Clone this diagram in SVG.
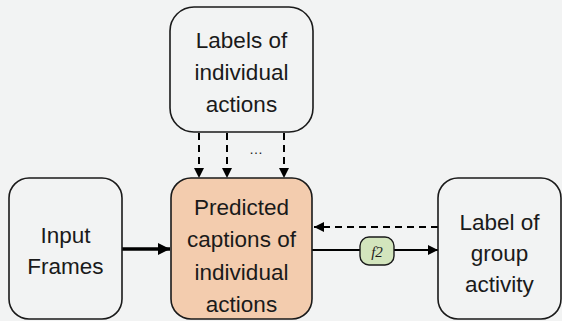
<svg xmlns="http://www.w3.org/2000/svg" width="562" height="321" viewBox="0 0 562 321">
  <defs>
    <marker id="tri" viewBox="0 0 10 10" refX="10" refY="5" markerWidth="5" markerHeight="5" orient="auto" markerUnits="userSpaceOnUse">
      <path d="M0,0 L10,5 L0,10 z" fill="#000"/>
    </marker>
    <marker id="triBig" viewBox="0 0 10 10" refX="10" refY="5" markerWidth="14" markerHeight="12" orient="auto" markerUnits="userSpaceOnUse">
      <path d="M0,0 L10,5 L0,10 z" fill="#000"/>
    </marker>
    <marker id="triMid" viewBox="0 0 10 10" refX="10" refY="5" markerWidth="11" markerHeight="10" orient="auto" markerUnits="userSpaceOnUse">
      <path d="M0,0 L10,5 L0,10 z" fill="#000"/>
    </marker>
  </defs>
  <style>
    .box { fill: #ffffff; fill-opacity: 0; stroke: #1a1a1a; stroke-width: 1.6; }
    .main { fill: #f3ccae; stroke: #1a1a1a; stroke-width: 1.6; }
    .fn { fill: #d3e5bd; stroke: #1a1a1a; stroke-width: 1.4; }
    .lbl { font-family: "Liberation Sans", "Open Sans", sans-serif; font-size: 22.5px; fill: #1a1a1a; text-anchor: middle; }
    .dash { fill: none; stroke: #000; stroke-width: 2; stroke-dasharray: 7 5; }
    .solid { fill: none; stroke: #000; stroke-width: 2; }
  </style>
  <rect width="562" height="321" fill="#f2f3f3"/>

  <g id="connectors">
    <line class="dash" x1="199" y1="133" x2="199" y2="178" marker-end="url(#triMid)"/>
    <line class="dash" x1="227" y1="133" x2="227" y2="178" marker-end="url(#triMid)"/>
    <line class="dash" x1="284" y1="133" x2="284" y2="178" marker-end="url(#triMid)"/>
    <text x="256" y="154" font-family="Liberation Sans, sans-serif" font-size="14" fill="#1a1a1a" text-anchor="middle">…</text>
    <line x1="122" y1="249" x2="170" y2="249" stroke="#000" stroke-width="3.5" marker-end="url(#triBig)"/>
    <line class="dash" x1="438" y1="227" x2="314" y2="227" marker-end="url(#triMid)"/>
    <line class="solid" x1="312" y1="250" x2="360" y2="250"/>
    <line class="solid" x1="394" y1="250" x2="438" y2="250" marker-end="url(#triMid)"/>
  </g>

  <g id="labels-individual">
    <rect class="box" x="170" y="7" width="143" height="125" rx="24"/>
    <text class="lbl" x="241.5" y="48">Labels of</text>
    <text class="lbl" x="241.5" y="80">individual</text>
    <text class="lbl" x="241.5" y="112">actions</text>
  </g>

  <g id="input-frames">
    <rect class="box" x="9" y="178" width="113" height="141" rx="20"/>
    <text class="lbl" x="65.5" y="243">Input</text>
    <text class="lbl" x="65.5" y="274">Frames</text>
  </g>

  <g id="predicted-captions">
    <rect class="main" x="171" y="178" width="141" height="141" rx="20"/>
    <text class="lbl" x="241.5" y="215">Predicted</text>
    <text class="lbl" x="241.5" y="247">captions of</text>
    <text class="lbl" x="241.5" y="280">individual</text>
    <text class="lbl" x="241.5" y="312">actions</text>
  </g>

  <g id="f2">
    <rect class="fn" x="360" y="237" width="34" height="28" rx="9"/>
    <text x="377" y="257" font-family="Liberation Serif, serif" font-style="italic" font-size="15" fill="#1a1a1a" text-anchor="middle">f2</text>
  </g>

  <g id="group-activity">
    <rect class="box" x="438" y="178" width="123" height="141" rx="20"/>
    <text class="lbl" x="499.5" y="230">Label of</text>
    <text class="lbl" x="499.5" y="261">group</text>
    <text class="lbl" x="499.5" y="292">activity</text>
  </g>
</svg>
